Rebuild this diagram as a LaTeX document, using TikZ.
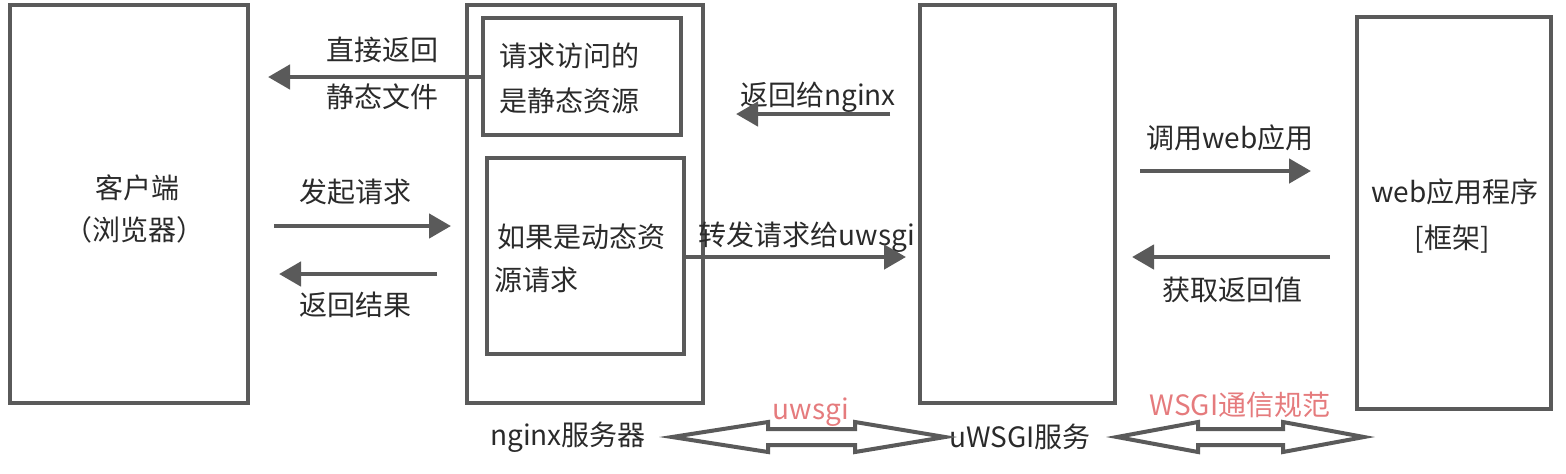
\documentclass[tikz,border=0pt]{standalone}
\usepackage{fontspec}
\setmainfont{Noto Sans CJK SC}
\usetikzlibrary{arrows.meta}
\definecolor{ln}{HTML}{5A5A5A}
\definecolor{tx}{HTML}{2A2A2A}
\definecolor{rd}{HTML}{E57B7D}
\begin{document}
\begin{tikzpicture}[x=0.5pt,y=-0.5pt,
  box/.style={draw=ln,line width=1.6pt,inner sep=0pt},
  lbl/.style={text=tx,font=\fontsize{14}{17}\selectfont,inner sep=0pt},
  rlbl/.style={text=rd,font=\fontsize{14}{17}\selectfont,inner sep=0pt},
  conn/.style={draw=ln,line width=2.3pt,-{Triangle[length=11pt,width=12pt]}},
  dbl/.style={draw=ln,line width=2pt,line join=miter,fill=white}]
\useasboundingbox (0,0) rectangle (1566,473);
% boxes
\node[box,minimum width=119pt,minimum height=199pt] (client) at (129,204) {};
\node[box,minimum width=118pt,minimum height=199pt] (nginx) at (585,204) {};
\node[box,minimum width=99pt,minimum height=58.5pt] (static) at (582,76.5) {};
\node[box,minimum width=98.5pt,minimum height=98pt] (dyn) at (585.5,256) {};
\node[box,minimum width=97.5pt,minimum height=199pt] (uwsgi) at (1017.5,204) {};
\node[box,minimum width=97pt,minimum height=196pt] (web) at (1454,213) {};
% box texts
\node[lbl] (t1) at (137,188) {客户端};
\node[lbl] (t2) at (134,230) {（浏览器）};
\node[lbl] (t3) at (569,56) {请求访问的};
\node[lbl] (t4) at (569,101) {是静态资源};
\node[lbl] (t5) at (581,237) {如果是动态资};
\node[lbl,anchor=west] (t6) at (494,280) {源请求};
\node[lbl] (t7) at (1455,192) {web应用程序};
\node[lbl] (t8) at (1452,239) {[框架]};
% arrow labels
\node[lbl] (l1) at (382,50) {直接返回};
\node[lbl] (l2) at (382,97) {静态文件};
\node[lbl] (l3) at (355,192) {发起请求};
\node[lbl] (l4) at (355,305) {返回结果};
\node[lbl] (l5) at (818,97) {返回给nginx};
\node[lbl] (l6) at (807,237) {转发请求给uwsgi};
\node[lbl] (l7) at (1230,138) {调用web应用};
\node[lbl] (l8) at (1232,290) {获取返回值};
% arrows
\coordinate (a1s) at (static.west |- 0,77);
\coordinate (a1e) at (268,77);
\draw[conn] (a1s) -- (a1e);
\coordinate (a2s) at (890,114);
\coordinate (a2e) at (736,114);
\draw[conn] (a2s) -- (a2e);
\coordinate (a3s) at (274,226);
\coordinate (a3e) at (451,226);
\draw[conn] (a3s) -- (a3e);
\coordinate (a4s) at (437,274);
\coordinate (a4e) at (279,274);
\draw[conn] (a4s) -- (a4e);
\coordinate (a5s) at (dyn.east |- 0,257);
\coordinate (a5e) at (906,257);
\draw[conn] (a5s) -- (a5e);
\coordinate (a6s) at (1140,171);
\coordinate (a6e) at (1311,171);
\draw[conn] (a6s) -- (a6e);
\coordinate (a7s) at (1330,257);
\coordinate (a7e) at (1132,257);
\draw[conn] (a7s) -- (a7e);
% bottom labels
\node[lbl] (b1) at (568,437) {nginx服务器};
\node[lbl] (b2) at (1020,437) {uWSGI服务};
% double arrows
\draw[dbl] (672,437) -- (768,422) -- (768,429) -- (855,429) -- (855,422) -- (945,437)
  -- (855,452) -- (855,445) -- (768,445) -- (768,452) -- cycle;
\draw[dbl] (1117,437) -- (1198,422) -- (1198,429) -- (1283,429) -- (1283,422) -- (1364,437)
  -- (1283,452) -- (1283,445) -- (1198,445) -- (1198,452) -- cycle;
\node[rlbl] (r1) at (811,412) {uwsgi};
\node[rlbl] (r2) at (1240,405) {WSGI通信规范};
\end{tikzpicture}
\end{document}
